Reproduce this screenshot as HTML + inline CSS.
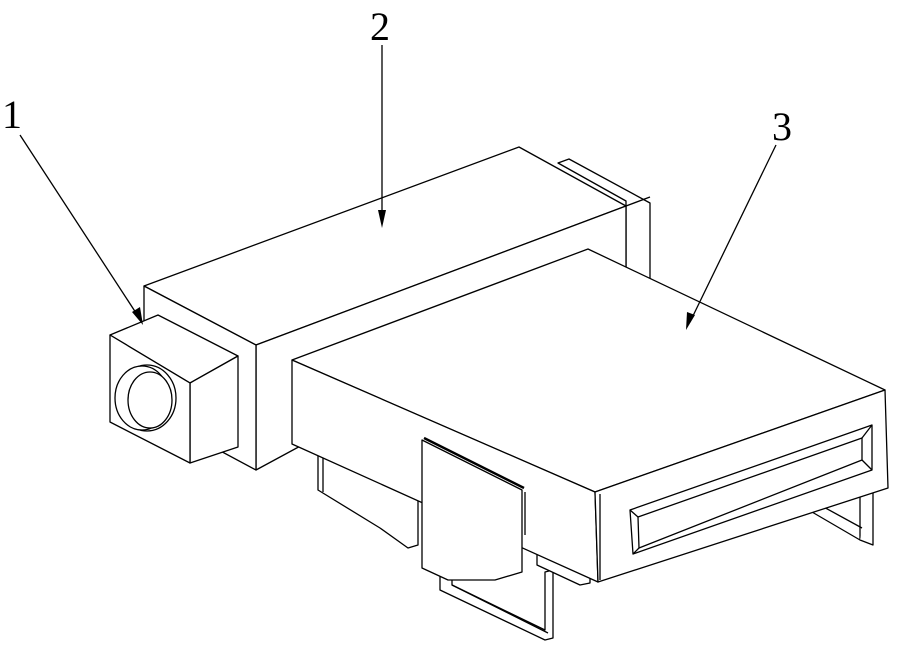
<!DOCTYPE html>
<html><head><meta charset="utf-8"><style>
html,body{margin:0;padding:0;background:#fff}
svg{display:block}
text{font-family:"Liberation Serif",serif;font-size:40px;fill:#000}
</style></head><body>
<svg width="905" height="653" viewBox="0 0 905 653" xmlns="http://www.w3.org/2000/svg">
<g fill="#fff" stroke="#000" stroke-width="1.3" stroke-linejoin="round">
<!-- back plate behind main box -->
<polygon points="558,163 569,159 650,203 650,281 626,269 626,201"/>
<line x1="626" y1="206" x2="650" y2="197"/>
<!-- main box 2 -->
<polygon points="144,286 519,147 626,206 256,345"/>
<polygon points="256,345 626,206 626,270 256,470"/>
<polygon points="144,286 256,345 256,470 144,410"/>
<!-- legs back-right -->
<polyline points="860,490 860,540 812,512 812,500"/>
<polyline points="873,480 873,545 860,540"/>
<line x1="820" y1="505" x2="862" y2="528"/>
<!-- lower left block -->
<polygon points="318,443 418,492 418,545 408,548 380,528 318,490"/>
<line x1="323" y1="445" x2="323" y2="492"/>
<!-- legs front-left -->
<polygon points="440,570 440,590 545,640 553,638 553,570 545,572 545,630 452,585 452,575"/>
<line x1="452" y1="585" x2="548" y2="633"/>
<!-- small block under plate -->
<polygon points="537,550 590,575 590,583 580,585 537,565"/>
<!-- plate 3 top -->
<polygon points="292,360 588,249 885,390 595,492"/>
<polygon points="292,360 595,492 598,582 292,444"/>
<!-- middle vertical plate -->
<polygon points="422,440 522,490 522,572 495,580 448,580 422,568"/>
<line x1="424" y1="438" x2="524" y2="488" stroke-width="2.5"/>
<line x1="525" y1="492" x2="525" y2="535"/>
<!-- front panel -->
<polygon points="595,492 885,390 888,488 598,582"/>
<line x1="600" y1="494" x2="600" y2="580"/>
<polygon points="630,510 872,425 872,470 633,554"/>
<polygon points="638,517 862,438 862,460 639,548"/>
<line x1="630" y1="510" x2="638" y2="517"/>
<line x1="872" y1="425" x2="862" y2="438"/>
<line x1="872" y1="470" x2="862" y2="460"/>
<line x1="633" y1="554" x2="639" y2="548"/>
<!-- camera box 1 -->
<polygon points="110,335 158,315 238,356 190,383"/>
<polygon points="190,383 238,356 238,447 190,463"/>
<polygon points="110,335 190,383 190,463 110,422"/>
<ellipse cx="147" cy="398" rx="29" ry="33"/>
<ellipse cx="142" cy="398" rx="27" ry="32"/>
<ellipse cx="150" cy="400" rx="22" ry="28"/>
</g>
<!-- leaders -->
<g stroke="#000" stroke-width="1.3">
<line x1="20" y1="135" x2="138" y2="316"/>
<line x1="382" y1="45" x2="382" y2="220"/>
<line x1="776" y1="145" x2="690" y2="322"/>
</g>
<g fill="#000">
<polygon points="143,325 132,312 140,307"/>
<polygon points="382,228 378,210 386,210"/>
<polygon points="686,330 687,312 695,315"/>
</g>
<text x="2" y="128">1</text>
<text x="370" y="40">2</text>
<text x="772" y="140">3</text>
</svg>
</body></html>
